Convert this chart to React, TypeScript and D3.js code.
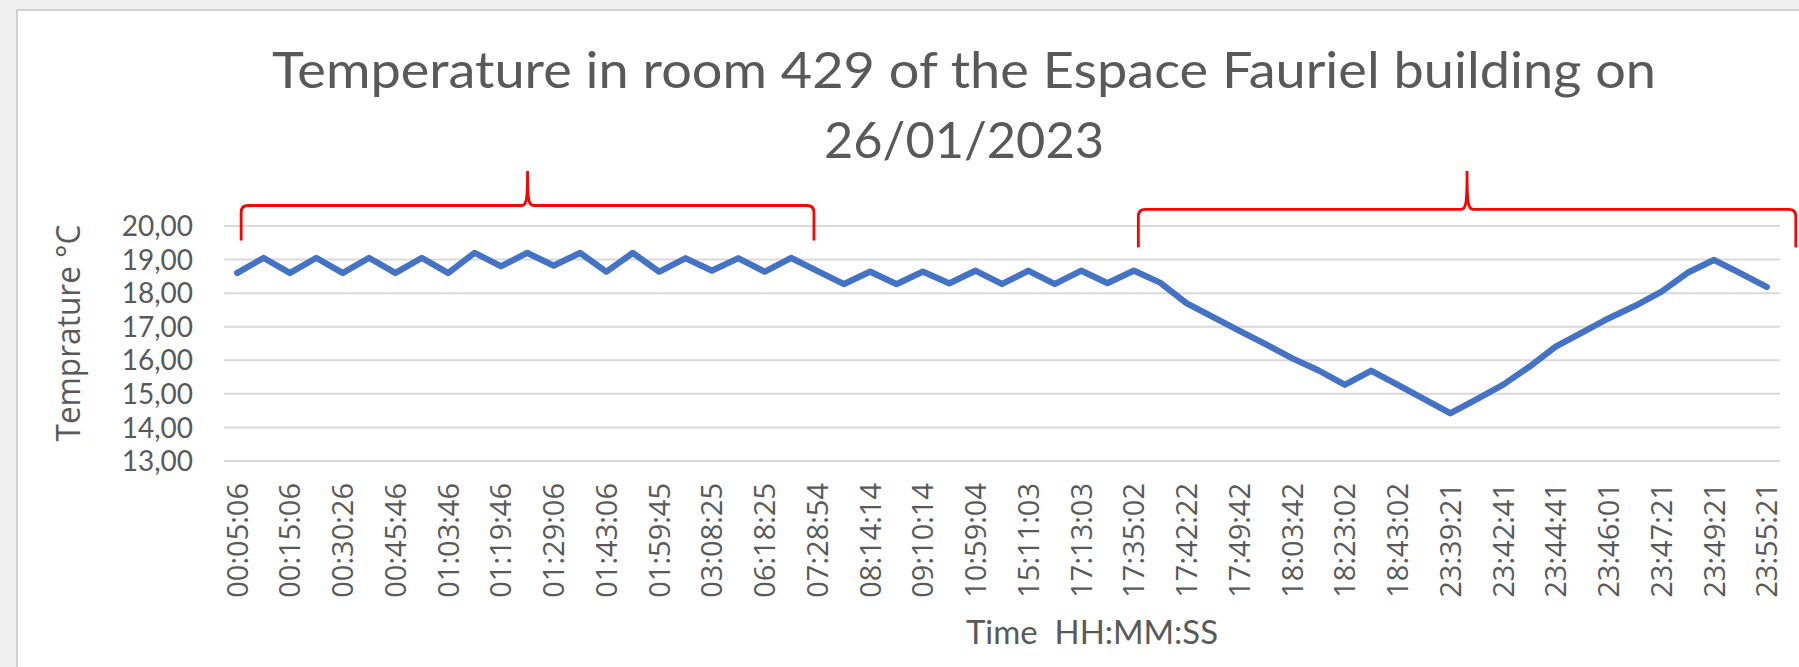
import * as d3 from 'd3';

// tick labels on the category axis (every other point carries a label)
const timeLabels = [
  '00:05:06', '00:15:06', '00:30:26', '00:45:46', '01:03:46', '01:19:46',
  '01:29:06', '01:43:06', '01:59:45', '03:08:25', '06:18:25', '07:28:54',
  '08:14:14', '09:10:14', '10:59:04', '15:11:03', '17:13:03', '17:35:02',
  '17:42:22', '17:49:42', '18:03:42', '18:23:02', '18:43:02', '23:39:21',
  '23:42:41', '23:44:41', '23:46:01', '23:47:21', '23:49:21', '23:55:21',
];

// temperature readings, °C
const temps = [
  18.6, 19.05, 18.6, 19.05, 18.6, 19.05, 18.6, 19.05, 18.6, 19.2,
  18.8, 19.2, 18.82, 19.2, 18.64, 19.2, 18.64, 19.04, 18.67, 19.04,
  18.64, 19.05, 18.66, 18.27, 18.64, 18.27, 18.64, 18.29, 18.67, 18.27,
  18.67, 18.27, 18.67, 18.3, 18.67, 18.31, 17.7, 17.29, 16.88, 16.48,
  16.06, 15.7, 15.27, 15.69, 15.27, 14.85, 14.42, 14.84, 15.27, 15.81,
  16.41, 16.83, 17.25, 17.62, 18.04, 18.61, 18.99, 18.59, 18.18,
];

const yTicks = [13, 14, 15, 16, 17, 18, 19, 20];

// red braces drawn over the chart (positions in category units)
const braces = [
  { from: 0.15, to: 21.87, bar: 205.5, end: 240.5 },
  { from: 34.17, to: 59.1, bar: 209.3, end: 247.3 },
];

const W = 1799;
const H = 667;
const TEXT = '#595959';

const bracePath = (x0: number, x1: number, bar: number, end: number, tip: number) => {
  const r = 7;
  const xm = (x0 + x1) / 2;
  const p = d3.path();
  p.moveTo(x0, end);
  p.lineTo(x0, bar + r);
  p.quadraticCurveTo(x0, bar, x0 + r, bar);
  p.lineTo(xm - 6, bar);
  p.bezierCurveTo(xm - 1, bar, xm, bar - 6, xm, tip);
  p.bezierCurveTo(xm, bar - 6, xm + 1, bar, xm + 6, bar);
  p.lineTo(x1 - r, bar);
  p.quadraticCurveTo(x1, bar, x1, bar + r);
  p.lineTo(x1, end);
  return p.toString();
};

const App = () => {
  const n = temps.length;
  const x = d3.scaleLinear().domain([0, n]).range([224, 1780]);
  const px = (i: number) => x(i + 0.5);
  const y = d3.scaleLinear().domain([13, 20]).range([461, 226]);

  const line = d3.line<number>()
    .x((d, i) => px(i))
    .y(d => y(d));

  const fmt = (v: number) => d3.format('.2f')(v).replace('.', ',');

  return (
    <svg width={W} height={H} style={{ position: 'absolute', left: 0, top: 0 }}>
      <rect x={0} y={0} width={W} height={H} fill="#f0f0f0" />
      <rect x={17} y={10} width={W} height={H} fill="#ffffff" stroke="#d0d0d0" strokeWidth={2} />

      {/* title */}
      <g fill={TEXT} fontFamily="Lato, 'Open Sans', sans-serif" fontSize={51} textAnchor="middle">
        <text x={964} y={88} textLength={1384} lengthAdjust="spacingAndGlyphs">
          Temperature in room 429 of the Espace Fauriel building on
        </text>
        <text x={964} y={158} textLength={280} lengthAdjust="spacingAndGlyphs">
          26/01/2023
        </text>
      </g>

      {/* gridlines */}
      <g stroke="#d9d9d9" strokeWidth={2}>
        {yTicks.map(t => (
          <line key={t} x1={x(0)} x2={x(n)} y1={y(t)} y2={y(t)} />
        ))}
      </g>

      {/* y tick labels */}
      <g fill={TEXT} fontFamily="Lato, sans-serif" fontSize={28} textAnchor="end">
        {yTicks.map(t => (
          <text key={t} x={193} y={y(t)} dy="0.36em">{fmt(t)}</text>
        ))}
      </g>

      {/* y axis title */}
      <text
        transform="translate(80,333) rotate(-90)"
        fill={TEXT}
        fontFamily="'Open Sans', sans-serif"
        fontSize={33}
        textAnchor="middle"
        textLength={217}
        lengthAdjust="spacingAndGlyphs"
      >
        Temprature °C
      </text>

      {/* x tick labels */}
      <g fill={TEXT} fontFamily="'Open Sans', sans-serif" fontSize={29} textAnchor="end">
        {timeLabels.map((lab, k) => (
          <text key={lab} transform={`translate(${px(k * 2) + 10.5},483) rotate(-90)`}>{lab}</text>
        ))}
      </g>

      {/* x axis title */}
      <text
        x={966}
        y={644}
        fill={TEXT}
        fontFamily="Lato, sans-serif"
        fontSize={32}
        textLength={252}
        lengthAdjust="spacingAndGlyphs"
        style={{ whiteSpace: 'pre' }}
      >
        {'Time  HH:MM:SS'}
      </text>

      {/* series */}
      <path
        d={line(temps) ?? ''}
        fill="none"
        stroke="#4472c4"
        strokeWidth={6.2}
        strokeLinejoin="round"
        strokeLinecap="round"
      />

      {/* braces */}
      <g fill="none" stroke="#ff0000" strokeWidth={2.8}>
        {braces.map((b, k) => (
          <path key={k} d={bracePath(x(b.from + 0.5), x(b.to + 0.5), b.bar, b.end, 171)} />
        ))}
      </g>
    </svg>
  );
};

export default App;
